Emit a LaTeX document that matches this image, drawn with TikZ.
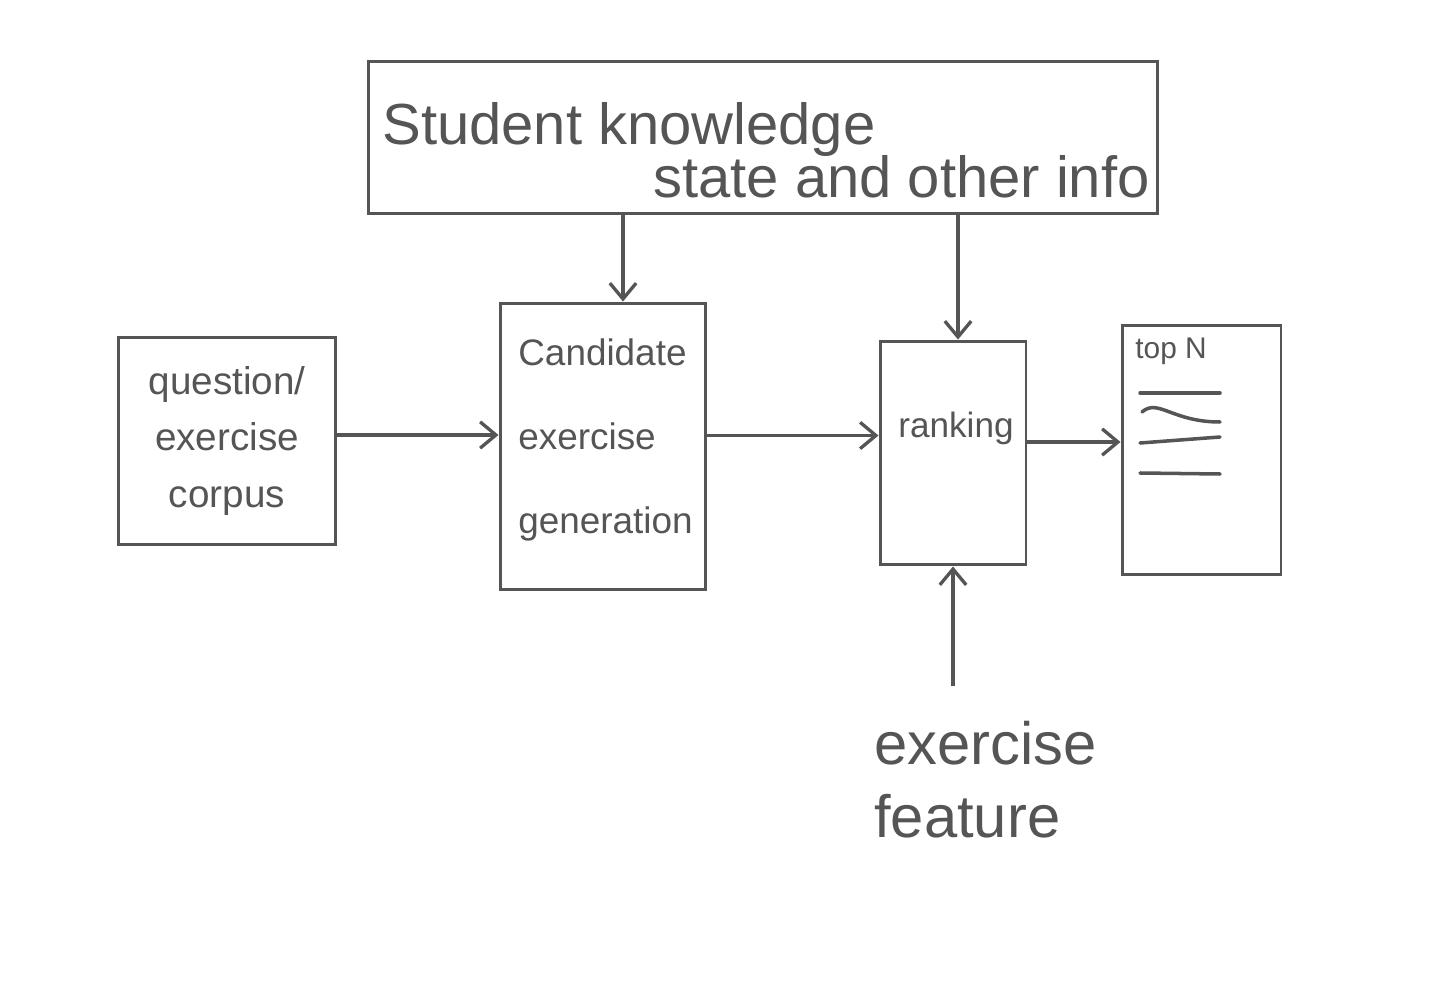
\documentclass[tikz,border=0pt]{standalone}
\usepackage{fontspec}
\setmainfont{Liberation Sans}
\usepackage{xcolor}
\usetikzlibrary{arrows.meta,positioning}
\definecolor{pen}{HTML}{555555}

\begin{document}
\begin{tikzpicture}[x=0.02cm, y=-0.02cm,
    box/.style={draw=pen, line width=1.7pt, rectangle, inner sep=0pt, text=pen},
    arr/.style={draw=pen, line width=1.9pt, -{Straight Barb[length=9pt,width=15pt]}},
    hand/.style={text=pen, inner sep=0pt},
    scribble/.style={draw=pen, line width=2pt, line cap=round}]
    \useasboundingbox (0,0) rectangle (1438,1000);

    % boxes
    \node[box, minimum width=15.8cm, minimum height=3.06cm] (student) at (763,137.5) {};
    \node[box, minimum width=4.36cm, minimum height=4.16cm, align=center, font=\fontsize{22}{32}\selectfont] (corpus) at (227,441) {question/\\exercise\\corpus};
    \node[box, minimum width=4.12cm, minimum height=5.74cm] (cand) at (603,446.5) {};
    \node[box, minimum width=2.92cm, minimum height=4.48cm] (rank) at (953,453) {};
    \node[box, minimum width=3.18cm, minimum height=5.0cm] (topn) at (1201.5,450) {};

    % labels
    \node[hand, anchor=base west, font=\fontsize{33}{40}\selectfont] (studentA) at (382,145) {Student knowledge};
    \node[hand, anchor=base east, font=\fontsize{33}{40}\selectfont] (studentB) at (1150,198) {state and other info};
    \node[hand, anchor=west, align=left, font=\fontsize{21}{48}\selectfont] (candLbl) at (518,440) {Candidate\\exercise\\generation};
    \node[hand, font=\fontsize{20}{24}\selectfont] (rankLbl) at (956,428) {ranking};
    \node[hand, anchor=base west, font=\fontsize{17}{20}\selectfont] (topLbl) at (1135,358) {top N};
    \node[hand, anchor=base west, align=left, font=\fontsize{34}{41}\selectfont] (feat) at (874,837) {exercise\\feature};

    % list in top N
    \foreach \ya/\yb in {393/393, 443/437, 473/474}
        \draw[scribble] (1140,\ya) -- (1220,\yb);
    \draw[scribble] (1142,412) .. controls (1158,398) and (1172,422) .. (1220,422);

    % connectors
    \draw[arr] ([xshift=0.4cm]cand.north |- student.south) -- ([xshift=0.4cm]cand.north);
    \draw[arr] ([xshift=0.1cm]rank.north |- student.south) -- ([xshift=0.1cm]rank.north);
    \draw[arr] ([yshift=0.12cm]corpus.east) -- ([yshift=0.12cm]corpus.east -| cand.west);
    \draw[arr] ([yshift=0.22cm]cand.east) -- ([yshift=0.22cm]cand.east -| rank.west);
    \draw[arr] ([yshift=0.22cm]rank.east) -- ([yshift=0.22cm]rank.east -| topn.west);
    \draw[arr] ([yshift=0.7cm]feat.north -| rank.south) -- (rank.south);
\end{tikzpicture}
\end{document}
